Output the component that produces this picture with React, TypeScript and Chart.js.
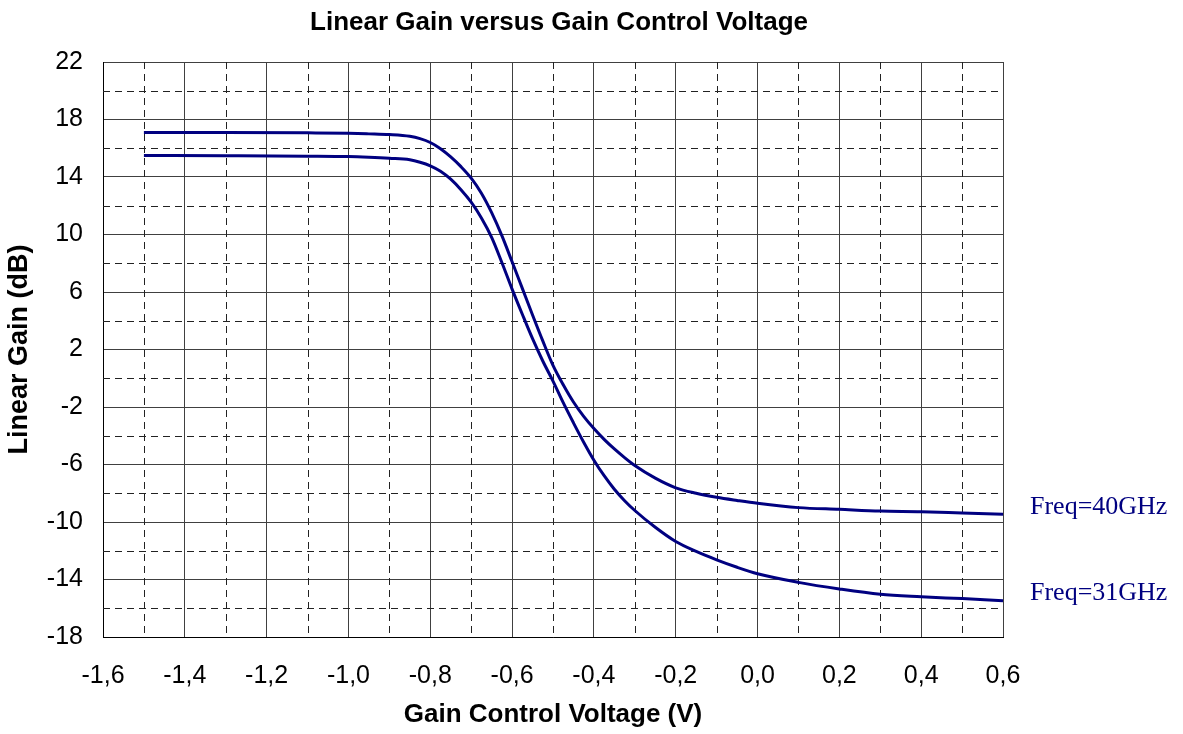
import React, { useEffect, useRef } from "react";
import { Chart, registerables } from "chart.js";

Chart.register(...registerables);

const chartTitle = "Linear Gain versus Gain Control Voltage";
const xTitle = "Gain Control Voltage (V)";
const yTitle = "Linear Gain (dB)";

const voltage = [-1.5, -1.3, -1.1, -1.0, -0.95, -0.9, -0.85, -0.825, -0.8, -0.775, -0.75, -0.725, -0.7, -0.675, -0.65, -0.625, -0.6, -0.575, -0.55, -0.525, -0.5, -0.475, -0.45, -0.425, -0.4, -0.375, -0.35, -0.325, -0.3, -0.25, -0.2, -0.15, -0.1, -0.05, 0.0, 0.1, 0.2, 0.3, 0.4, 0.5, 0.6];
const gain40 = [17.1, 17.1, 17.07, 17.04, 17.0, 16.95, 16.83, 16.67, 16.4, 15.97, 15.4, 14.72, 13.92, 12.87, 11.52, 9.92, 8.1, 6.25, 4.4, 2.6, 0.9, -0.45, -1.65, -2.65, -3.5, -4.25, -4.92, -5.52, -6.07, -6.95, -7.62, -8.0, -8.28, -8.5, -8.7, -9.0, -9.12, -9.24, -9.28, -9.37, -9.46];
const gain31 = [15.5, 15.48, 15.45, 15.42, 15.37, 15.3, 15.2, 15.03, 14.78, 14.4, 13.85, 13.12, 12.25, 11.15, 9.8, 8.05, 6.2, 4.45, 2.75, 1.2, -0.2, -1.7, -3.1, -4.45, -5.7, -6.78, -7.72, -8.52, -9.2, -10.37, -11.36, -12.05, -12.63, -13.15, -13.6, -14.2, -14.66, -15.03, -15.2, -15.33, -15.47];
const seriesLabels = ["Freq=40GHz", "Freq=31GHz"];

const xTickValues = [-1.6, -1.4, -1.2, -1.0, -0.8, -0.6, -0.4, -0.2, 0.0, 0.2, 0.4, 0.6];
const xMinorValues = [-1.5, -1.3, -1.1, -0.9, -0.7, -0.5, -0.3, -0.1, 0.1, 0.3, 0.5];
const yTickValues = [-18, -14, -10, -6, -2, 2, 6, 10, 14, 18, 22];
const yMinorValues = [-16, -12, -8, -4, 0, 4, 8, 12, 16, 20];

const LINE_COLOR = "#000080";
const SANS = '"Liberation Sans", Arial, sans-serif';

const fmtX = (v: number) => (Math.abs(v) < 1e-9 ? 0 : v).toFixed(1).replace(".", ",");

const minorGridPlugin = {
  id: "minorGrid",
  beforeDatasetsDraw(chart: any) {
    const { ctx, chartArea, scales } = chart;
    const xs = scales.x;
    const ys = scales.y;
    ctx.save();
    ctx.strokeStyle = "#222";
    ctx.lineWidth = 1;
    ctx.setLineDash([7, 5]);
    xMinorValues.forEach((v) => {
      const px = Math.round(xs.getPixelForValue(v)) + 0.5;
      ctx.beginPath();
      ctx.moveTo(px, chartArea.top);
      ctx.lineTo(px, chartArea.bottom);
      ctx.stroke();
    });
    yMinorValues.forEach((v) => {
      const py = Math.round(ys.getPixelForValue(v)) + 0.5;
      ctx.beginPath();
      ctx.moveTo(chartArea.left, py);
      ctx.lineTo(chartArea.right, py);
      ctx.stroke();
    });
    ctx.restore();
  },
};

const textPlugin = {
  id: "texts",
  afterDatasetsDraw(chart: any) {
    const { ctx, chartArea, scales } = chart;
    ctx.save();
    ctx.fillStyle = LINE_COLOR;
    ctx.font = '26px "Liberation Serif", "Times New Roman", serif';
    ctx.textAlign = "left";
    ctx.textBaseline = "middle";
    chart.data.datasets.forEach((ds: any) => {
      const last = ds.data[ds.data.length - 1];
      const py = scales.y.getPixelForValue(last.y) - 7;
      ctx.fillText(ds.label, chartArea.right + 27, py);
    });
    ctx.fillStyle = "#000";
    ctx.font = "bold 26px " + SANS;
    ctx.textAlign = "center";
    ctx.fillText(chartTitle, (chartArea.left + chartArea.right) / 2 + 6, 23);
    ctx.restore();
  },
};

export default function App() {
  const ref = useRef<HTMLCanvasElement | null>(null);
  useEffect(() => {
    if (!ref.current) return;
    Chart.defaults.font.family = SANS;
    Chart.defaults.color = "#000";
    const mk = (vals: number[]) => voltage.map((x, i) => ({ x, y: vals[i] }));
    const chart = new Chart(ref.current, {
      type: "line",
      data: {
        datasets: [
          { label: seriesLabels[0], data: mk(gain40), borderColor: LINE_COLOR, borderWidth: 3, pointRadius: 0, cubicInterpolationMode: "monotone", fill: false },
          { label: seriesLabels[1], data: mk(gain31), borderColor: LINE_COLOR, borderWidth: 3, pointRadius: 0, cubicInterpolationMode: "monotone", fill: false },
        ],
      },
      options: {
        animation: false,
        responsive: false,
        maintainAspectRatio: false,
        layout: { padding: { left: 0, right: 180, top: 62, bottom: 0 } },
        plugins: {
          legend: { display: false },
          tooltip: { enabled: false },
          title: { display: false },
        },
        scales: {
          x: {
            type: "linear",
            min: -1.6,
            max: 0.6,
            afterBuildTicks: (s: any) => {
              s.ticks = xTickValues.map((v) => ({ value: v }));
            },
            afterFit: (s: any) => {
              s.height = 97;
            },
            ticks: { padding: 24, font: { size: 25 }, color: "#000", callback: (v: any) => fmtX(Number(v)), maxRotation: 0, autoSkip: false },
            grid: { color: "#404040", lineWidth: 1, drawTicks: false },
            border: { color: "#000", width: 1 },
            title: { display: true, text: xTitle, color: "#000", font: { size: 26, weight: "bold" }, padding: { top: 0, bottom: 4 } },
          },
          y: {
            type: "linear",
            min: -18,
            max: 22,
            afterBuildTicks: (s: any) => {
              s.ticks = yTickValues.map((v) => ({ value: v }));
            },
            afterFit: (s: any) => {
              s.width = 103;
            },
            ticks: { padding: 20, font: { size: 25 }, color: "#000", autoSkip: false },
            grid: { color: "#404040", lineWidth: 1, drawTicks: false },
            border: { color: "#000", width: 1 },
            title: { display: true, text: yTitle, color: "#000", font: { size: 27, weight: "bold" }, padding: { top: 3, bottom: 0 } },
          },
        },
      },
      plugins: [minorGridPlugin, textPlugin],
    } as any);
    return () => chart.destroy();
  }, []);
  return (
    <div style={{ position: "fixed", left: 0, top: 0, width: 1183, height: 734, background: "#fff" }}>
      <canvas ref={ref} width={1183} height={734} />
    </div>
  );
}
